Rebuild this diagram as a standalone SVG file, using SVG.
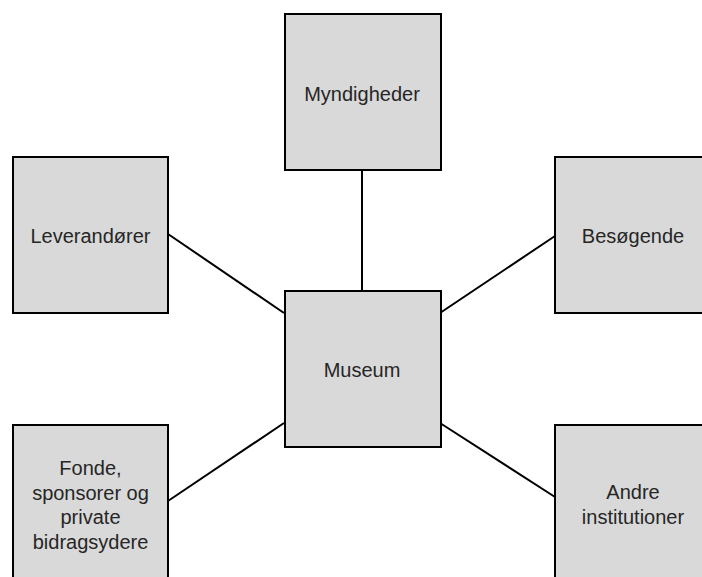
<svg xmlns="http://www.w3.org/2000/svg" width="702" height="577" viewBox="0 0 702 577">
<style>
.box{fill:#d9d9d9;stroke:#000;stroke-width:2}
.lbl{font-family:"Liberation Sans",Arial,sans-serif;font-size:20px;fill:#262626;text-anchor:middle}
.conn{stroke:#000;stroke-width:2;fill:none}
</style>
<rect width="702" height="577" fill="#fff"/>
<g id="connectors">
<line class="conn" x1="362" y1="170" x2="362" y2="291"/>
<line class="conn" x1="168" y1="234" x2="284" y2="313"/>
<line class="conn" x1="440" y1="313" x2="555" y2="236"/>
<line class="conn" x1="168" y1="501" x2="284" y2="423"/>
<line class="conn" x1="440" y1="423" x2="555" y2="497"/>
</g>
<g id="myndigheder">
<rect class="box" x="285" y="14" width="156" height="156"/>
<text class="lbl" x="362" y="101">Myndigheder</text>
</g>
<g id="leverandorer">
<rect class="box" x="13" y="157" width="155" height="156"/>
<text class="lbl" x="90.5" y="243">Leverandører</text>
</g>
<g id="besogende">
<rect class="box" x="555" y="157" width="156" height="156"/>
<text class="lbl" x="633" y="243">Besøgende</text>
</g>
<g id="museum">
<rect class="box" x="285" y="291" width="156" height="156"/>
<text class="lbl" x="362" y="377">Museum</text>
</g>
<g id="fonde">
<rect class="box" x="13" y="425" width="155" height="156"/>
<text class="lbl" x="90.5" y="475">Fonde,</text>
<text class="lbl" x="90.5" y="499.5">sponsorer og</text>
<text class="lbl" x="90.5" y="524">private</text>
<text class="lbl" x="90.5" y="548.5">bidragsydere</text>
</g>
<g id="andre">
<rect class="box" x="555" y="425" width="156" height="156"/>
<text class="lbl" x="633" y="499">Andre</text>
<text class="lbl" x="633" y="523.5">institutioner</text>
</g>
</svg>
